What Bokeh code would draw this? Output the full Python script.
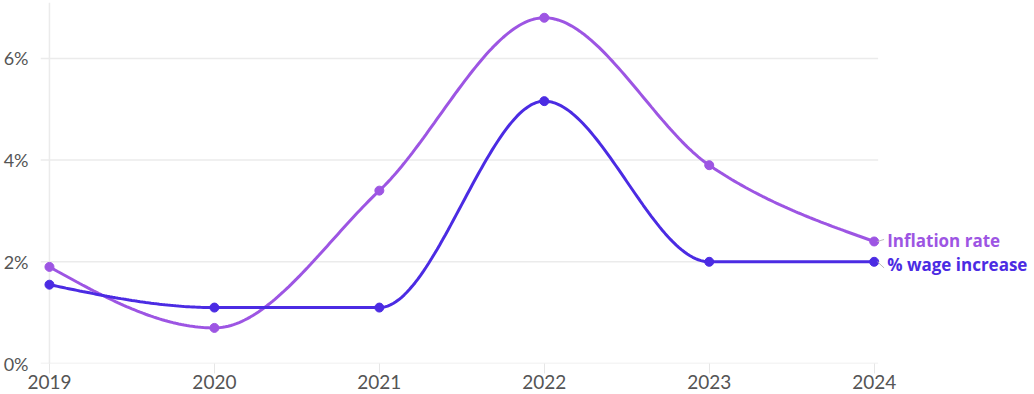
import numpy as np
from bokeh.plotting import figure
from bokeh.models import Range1d, FixedTicker, Span, Label
from bokeh.embed import file_html
from bokeh.resources import INLINE

# Annual figures, in percent
years = [2019, 2020, 2021, 2022, 2023, 2024]
inflation = [1.9, 0.7, 3.4, 6.8, 3.9, 2.4]
wage_increase = [1.55, 1.1, 1.1, 5.16, 2.0, 2.0]

series_names = ["Inflation rate", "% wage increase"]
series_colors = ["#9d55e3", "#4b2be3"]

y_ticks = [0, 2, 4, 6]
y_tick_labels = ["0%", "2%", "4%", "6%"]
x_tick_labels = [str(y) for y in years]


def monotone_x(xs, ys, samples=60):
    """Monotone cubic curve through the points (same tangents as d3.curveMonotoneX)."""
    xs = np.asarray(xs, dtype=float)
    ys = np.asarray(ys, dtype=float)
    n = len(xs)
    h = np.diff(xs)
    s = np.diff(ys) / h
    m = np.zeros(n)
    for i in range(1, n - 1):
        h0, h1 = h[i - 1], h[i]
        s0, s1 = s[i - 1], s[i]
        p = (s0 * h1 + s1 * h0) / (h0 + h1)
        m[i] = (np.sign(s0) + np.sign(s1)) * min(abs(s0), abs(s1), 0.5 * abs(p))
    m[0] = (3 * s[0] - m[1]) / 2
    m[-1] = (3 * s[-1] - m[-2]) / 2
    out_x, out_y = [], []
    for i in range(n - 1):
        t = np.linspace(0, 1, samples, endpoint=(i == n - 2))
        h00 = 2 * t**3 - 3 * t**2 + 1
        h10 = t**3 - 2 * t**2 + t
        h01 = -2 * t**3 + 3 * t**2
        h11 = t**3 - t**2
        out_x.extend(xs[i] + t * h[i])
        out_y.extend(h00 * ys[i] + h10 * h[i] * m[i] + h01 * ys[i + 1] + h11 * h[i] * m[i + 1])
    return out_x, out_y


x_start = 2018.9457
p = figure(
    width=1034, height=394,
    output_backend="svg", toolbar_location=None,
    x_range=Range1d(x_start, 2024.972),
    y_range=Range1d(0, 7.1),
    min_border_left=36, min_border_right=0,
    min_border_top=2, min_border_bottom=31,
    outline_line_color=None,
)

font = "Lato"
label_font = "Open Sans"
tick_color = "#555555"
grid_color = "#ebebeb"

# y axis: labels only
p.yaxis.ticker = FixedTicker(ticks=y_ticks)
p.yaxis.major_label_overrides = {t: l for t, l in zip(y_ticks, y_tick_labels)}
p.yaxis.axis_line_color = None
p.yaxis.major_tick_line_color = None
p.yaxis.minor_tick_line_color = None
p.yaxis.major_label_standoff = 6
p.yaxis.major_label_text_font = font
p.yaxis.major_label_text_font_size = "18px"
p.yaxis.major_label_text_color = tick_color

# x axis: short light ticks under the baseline
p.xaxis.ticker = FixedTicker(ticks=years)
p.xaxis.major_label_overrides = {y: l for y, l in zip(years, x_tick_labels)}
p.xaxis.axis_line_color = None
p.xaxis.major_tick_line_color = "#e6e6e6"
p.xaxis.major_tick_in = 0
p.xaxis.major_tick_out = 10
p.xaxis.minor_tick_line_color = None
p.xaxis.major_label_standoff = 1
p.xaxis.major_label_text_font = font
p.xaxis.major_label_text_font_size = "19px"
p.xaxis.major_label_text_color = tick_color

# horizontal guides stop at the last year, leaving room for the series names
p.grid.visible = False
p.segment(x0=[x_start] * len(y_ticks), x1=[years[-1] + 0.024] * len(y_ticks),
          y0=y_ticks, y1=y_ticks, line_color=grid_color, line_width=1.5, level="underlay")
p.add_layout(Span(location=years[0], dimension="height",
                  line_color=grid_color, line_width=1.5, level="underlay"))

for name, vals, color, dy in zip(series_names, [inflation, wage_increase], series_colors, [1, -3]):
    cx, cy = monotone_x(years, vals)
    p.line(cx, cy, line_color=color, line_width=3)
    p.scatter(years, vals, size=9, fill_color=color, line_color=color)
    # short grey leader from the last point to the name
    p.segment(x0=[years[-1] + 0.02], y0=[vals[-1]], x1=[years[-1] + 0.06], y1=[vals[-1] + dy * 0.04],
              line_color="#bbbbbb", line_width=1)
    p.add_layout(Label(
        x=years[-1], y=vals[-1], text=name,
        x_offset=13, y_offset=dy,
        text_font=label_font, text_font_style="bold", text_font_size="17px",
        text_color=color, text_baseline="middle", text_align="left",
    ))

open("out.html", "w").write(file_html(p, INLINE))
